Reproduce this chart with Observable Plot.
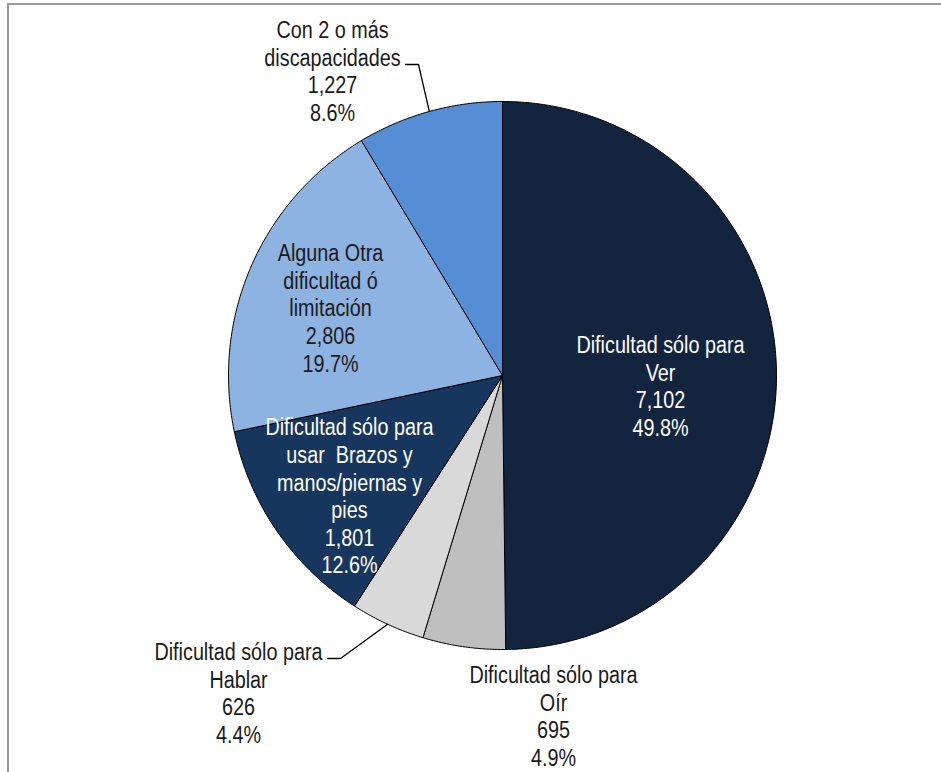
<!DOCTYPE html>
<html>
<head>
<meta charset="utf-8">
<script src="https://cdn.jsdelivr.net/npm/d3@7"></script>
<script src="https://cdn.jsdelivr.net/npm/@observablehq/plot@0.6"></script>
<style>
  body { margin: 0; background: #fff; }
  #wrap { position: relative; width: 941px; height: 772px; overflow: hidden; }
  #frame { position: absolute; left: 7px; top: 3px; width: 940px; height: 780px;
           border-left: 2px solid #9a9a9a; border-top: 2px solid #9a9a9a; }
  #chart { position: absolute; left: 0; top: 0; }
</style>
</head>
<body>
<div id="wrap"><div id="frame"></div><div id="chart"></div></div>
<script>
// ---- data ----
const categories = [
  "Dificultad sólo para\nVer",
  "Dificultad sólo para\nOír",
  "Dificultad sólo para\nHablar",
  "Dificultad sólo para\nusar\u00a0 Brazos y\nmanos/piernas y\npies",
  "Alguna Otra\ndificultad ó\nlimitación",
  "Con 2 o más\ndiscapacidades"
];
const values = [7102, 695, 626, 1801, 2806, 1227];

// ---- styling / layout ----
const sliceColors = ["#13243f", "#bfbfbf", "#d9d9d9", "#17365d", "#8db3e2", "#558ed5"];
const textColors = ["#ffffff", "#1a1a1a", "#1a1a1a", "#ffffff", "#1a1a1a", "#1a1a1a"];
const cx = 502, cy = 375, R = 274;
const narrow = 0.86; // horizontal condensing of label text (Arial Narrow look)
// label centre offsets from pie centre (px)
const labelOffsets = [[158, 10], [51, 340], [-264, 317], [-153, 120], [-172, -68], [-170, -305]];
// leader lines: [slice index, label end offset, elbow offset]
const leaders = [
  {i: 5, end: [-97, -311], elbow: [-84, -311]},
  {i: 2, end: [-175, 283], elbow: [-162, 283]}
];

const total = d3.sum(values);
const arcs = d3.pie().sort(null).value(d => d)(values);
const pt = (a, r) => ({x: cx + r * Math.sin(a), y: cy - r * Math.cos(a)});

const slices = arcs.map((a, i) => {
  const n = Math.max(8, Math.ceil((a.endAngle - a.startAngle) / 0.01));
  const pts = [{x: cx, y: cy}];
  for (let k = 0; k <= n; k++) pts.push(pt(a.startAngle + (a.endAngle - a.startAngle) * k / n, R));
  pts.push({x: cx, y: cy});
  return {pts, color: sliceColors[i]};
});

const fmtN = d3.format(",");
const fmtP = d3.format(".1%");
const labels = arcs.map((a, i) => ({
  x: cx + labelOffsets[i][0],
  y: cy + labelOffsets[i][1],
  text: categories[i] + "\n" + fmtN(values[i]) + "\n" + fmtP(values[i] / total),
  color: textColors[i]
}));

const leaderPts = leaders.flatMap((l, j) => {
  const a = arcs[l.i];
  const mid = (a.startAngle + a.endAngle) / 2;
  const p = pt(mid, R);
  return [
    {id: j, x: cx + l.end[0], y: cy + l.end[1]},
    {id: j, x: cx + l.elbow[0], y: cy + l.elbow[1]},
    {id: j, x: p.x, y: p.y}
  ];
});

const chart = Plot.plot({
  width: 941,
  height: 772,
  margin: 0,
  x: {domain: [0, 941], range: [0, 941], axis: null},
  y: {domain: [0, 772], range: [0, 772], axis: null},
  color: {type: "identity"},
  style: {background: "transparent", fontFamily: "'Liberation Sans', Arial, sans-serif"},
  marks: [
    ...slices.map(s => Plot.line(s.pts, {x: "x", y: "y", fill: s.color, stroke: "#000", strokeWidth: 1, strokeLinejoin: "round"})),
    Plot.line(leaderPts, {x: "x", y: "y", z: "id", stroke: "#000", strokeWidth: 1.3}),
    Plot.text(labels, {x: "x", y: "y", text: "text", fill: "color", fontSize: 23, lineHeight: 1.2, textAnchor: "middle"})
  ]
});
// condense label glyphs horizontally
d3.select(chart).selectAll("text").each(function () {
  const t = this.getAttribute("transform");
  if (t) {
    this.setAttribute("transform", t + ` scale(${narrow},1)`);
  } else {
    const x = +this.getAttribute("x") || 0;
    this.setAttribute("transform", `translate(${x},0) scale(${narrow},1) translate(${-x},0)`);
  }
});
document.getElementById("chart").appendChild(chart);
</script>
</body>
</html>
